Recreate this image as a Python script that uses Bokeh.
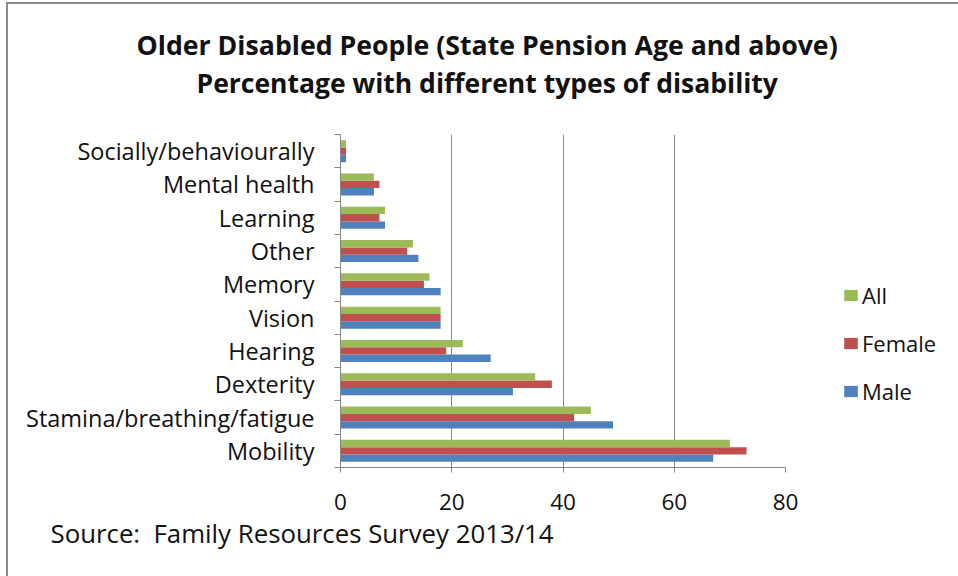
from bokeh.plotting import figure
from bokeh.models import (ColumnDataSource, Range1d, FixedTicker, Title, Legend, LegendItem)
from bokeh.transform import dodge
from bokeh.embed import file_html
from bokeh.resources import INLINE

# ---- data (top-to-bottom as shown) ----
categories = ["Socially/behaviourally", "Mental health", "Learning", "Other", "Memory",
              "Vision", "Hearing", "Dexterity", "Stamina/breathing/fatigue", "Mobility"]
all_pct = [1, 6, 8, 13, 16, 18, 22, 35, 45, 70]
female_pct = [1, 7, 7, 12, 15, 18, 19, 38, 42, 73]
male_pct = [1, 6, 8, 14, 18, 18, 27, 31, 49, 67]
x_ticks = [0, 20, 40, 60, 80]
title_lines = ["Older Disabled People (State Pension Age and above)",
               "Percentage with different types of disability"]
source_text = "Source:\u00a0 Family Resources Survey 2013/14"

n = len(categories)
pos = [n - 1 - i for i in range(n)]  # Mobility at bottom
src = ColumnDataSource(dict(y=pos, cat=categories, all=all_pct, female=female_pct, male=male_pct))

FONT = "Open Sans"
GREY = "#868686"
TXT = "#111111"
C_ALL, C_FEM, C_MALE = "#9BBB59", "#C0504D", "#4F81BD"

p = figure(frame_width=445, frame_height=333, output_backend="svg", toolbar_location=None,
           x_range=Range1d(0, 80), y_range=Range1d(-0.5, n - 0.5),
           min_border_left=332, min_border_right=173, min_border_top=130, min_border_bottom=109)
p.styles = {"border-top": "2px solid #8a8a8a", "border-left": "2px solid #8a8a8a",
            "margin-left": "6px", "margin-top": "2px"}
p.outline_line_color = None
p.background_fill_color = "white"
p.border_fill_color = "white"

bh = 0.22
r_male = p.hbar(y=dodge("y", -bh, range=p.y_range), right="male", left=0, height=bh,
                source=src, fill_color=C_MALE, line_color=None)
r_fem = p.hbar(y=dodge("y", 0, range=p.y_range), right="female", left=0, height=bh,
               source=src, fill_color=C_FEM, line_color=None)
r_all = p.hbar(y=dodge("y", bh, range=p.y_range), right="all", left=0, height=bh,
               source=src, fill_color=C_ALL, line_color=None)

# x axis
p.xaxis.ticker = FixedTicker(ticks=x_ticks)
p.xaxis.axis_line_color = GREY
p.xaxis.major_tick_line_color = GREY
p.xaxis.major_tick_out = 5
p.xaxis.major_tick_in = 0
p.xaxis.minor_tick_line_color = None
p.xaxis.major_label_text_font = FONT
p.xaxis.major_label_text_font_size = "22.5px"
p.xaxis.major_label_text_color = TXT
p.xaxis.major_label_standoff = 21

# y axis
p.yaxis.ticker = FixedTicker(ticks=pos, minor_ticks=[v - 0.5 for v in range(n + 1)])
p.yaxis.major_label_overrides = {v: c for v, c in zip(pos, categories)}
p.yaxis.axis_line_color = GREY
p.yaxis.major_tick_line_color = None
p.yaxis.major_tick_out = 0
p.yaxis.major_tick_in = 0
p.yaxis.minor_tick_line_color = GREY
p.yaxis.minor_tick_out = 6
p.yaxis.minor_tick_in = 0
p.yaxis.major_label_text_font = FONT
p.yaxis.major_label_text_font_size = "23.5px"
p.yaxis.major_label_text_color = TXT
p.yaxis.major_label_standoff = 20

p.xgrid.grid_line_color = GREY
p.xgrid.ticker = FixedTicker(ticks=x_ticks)
p.ygrid.grid_line_color = None

# title block: spacer nearest the plot, then line 2, then line 1
p.add_layout(Title(text=" ", standoff=18, text_font=FONT, text_font_size="10px"), "above")
p.add_layout(Title(text=title_lines[1], align="left", offset=-144, standoff=0,
                   text_font=FONT, text_font_style="bold", text_font_size="26.5px",
                   text_color=TXT), "above")
p.add_layout(Title(text=title_lines[0], align="left", offset=-204, standoff=0,
                   text_font=FONT, text_font_style="bold", text_font_size="26.7px",
                   text_color=TXT), "above")
# source line below the x axis
p.add_layout(Title(text=source_text, align="left", offset=-290, standoff=1,
                   text_font=FONT, text_font_style="normal", text_font_size="25.8px",
                   text_color=TXT), "below")

legend = Legend(items=[LegendItem(label="All", renderers=[r_all]),
                       LegendItem(label="Female", renderers=[r_fem]),
                       LegendItem(label="Male", renderers=[r_male])],
                location=(57, 61), orientation="vertical")
legend.border_line_color = None
legend.background_fill_alpha = 0
legend.padding = 0
legend.margin = 0
legend.glyph_width = 17
legend.glyph_height = 14
legend.label_standoff = 3
legend.label_height = 30
legend.spacing = 18
legend.label_text_font = FONT
legend.label_text_font_size = "22px"
legend.label_text_color = TXT
p.add_layout(legend, "right")

open("out.html", "w").write(file_html(p, INLINE))
